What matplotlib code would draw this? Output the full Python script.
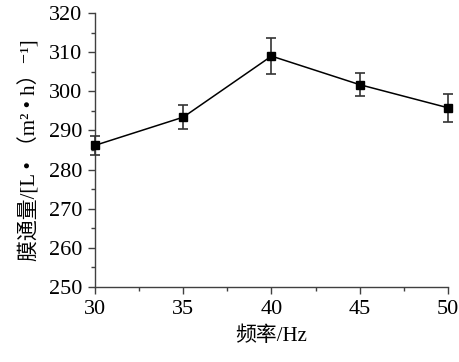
import numpy as np
import matplotlib.pyplot as plt
from matplotlib.ticker import MultipleLocator

freq = [30, 35, 40, 45, 50]
flux = [286.2, 293.4, 309.0, 301.7, 295.8]
err = [2.4, 3.0, 4.5, 2.9, 3.6]

fam = ['Liberation Serif', 'Noto Sans CJK SC', 'DejaVu Serif']
plt.rcParams['font.family'] = fam
plt.rcParams['font.size'] = 16

fig = plt.figure(figsize=(4.59, 3.62), dpi=100)
ax = fig.add_axes([0.207, 0.207, 0.769, 0.757])

ax.errorbar(freq, flux, yerr=err, color='black', marker='s', markersize=5.5,
            linewidth=1.1, ecolor='#333333', elinewidth=1.2, capsize=3.5,
            capthick=1.2, clip_on=False, zorder=3)

ax.set_xlim(30, 50)
ax.set_ylim(250, 320)
ax.xaxis.set_major_locator(MultipleLocator(5))
ax.xaxis.set_minor_locator(MultipleLocator(2.5))
ax.yaxis.set_major_locator(MultipleLocator(10))
ax.yaxis.set_minor_locator(MultipleLocator(5))

for s in ['top', 'right']:
    ax.spines[s].set_visible(False)
for s in ['left', 'bottom']:
    ax.spines[s].set_color('#404040')
    ax.spines[s].set_linewidth(1.0)

ax.tick_params(which='major', direction='out', length=5, width=1.0, color='#404040', pad=4)
ax.tick_params(which='minor', direction='out', length=3, width=1.0, color='#404040')

ax.set_xlabel('频率/Hz', labelpad=6, fontsize=15)
ax.set_ylabel('膜通量/[L • （m² • h）⁻¹]', labelpad=6, fontsize=15)

fig.savefig('out.png', dpi=100)
